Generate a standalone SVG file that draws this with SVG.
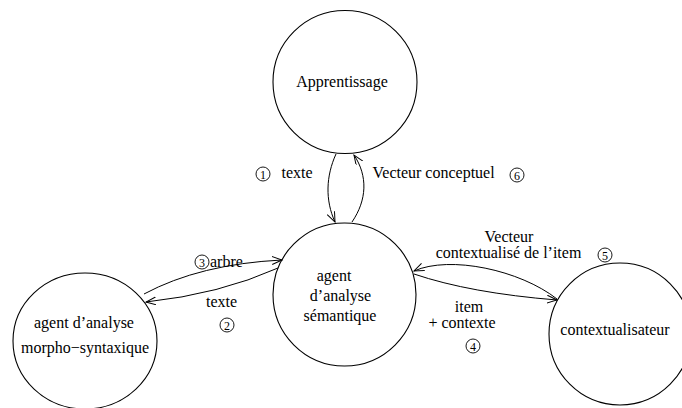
<svg xmlns="http://www.w3.org/2000/svg" width="682" height="408" viewBox="0 0 682 408">
<defs>
<style>
.node{fill:none;stroke:#000;stroke-width:1.1}
.edge{fill:none;stroke:#000;stroke-width:1;marker-end:url(#arr)}
.t{font-family:"Liberation Serif","Times New Roman",serif;font-size:16px;fill:#000}
.m{text-anchor:middle}
.num{fill:none;stroke:#000;stroke-width:0.9}
.d{font-family:"Liberation Serif","Times New Roman",serif;font-size:12px;fill:#000;text-anchor:middle}
</style>
<marker id="arr" markerUnits="userSpaceOnUse" markerWidth="12" markerHeight="10" refX="10" refY="4" orient="auto">
<path d="M0,0 L10,4 L0,8" fill="none" stroke="#000" stroke-width="1"/>
</marker>
</defs>
<rect width="682" height="408" fill="#fff"/>
<g id="apprentissage">
<ellipse class="node" cx="345" cy="82" rx="72" ry="71.5"/>
<text class="t m" x="342" y="87">Apprentissage</text>
</g>
<g id="agent-semantique">
<ellipse class="node" cx="344.5" cy="294.5" rx="71.5" ry="71.5"/>
<text class="t m" x="334" y="281">agent</text>
<text class="t m" x="340.5" y="301">d’analyse</text>
<text class="t m" x="340" y="321">sémantique</text>
</g>
<g id="agent-morpho">
<ellipse class="node" cx="85" cy="341" rx="72" ry="68"/>
<text class="t m" x="84" y="328">agent d’analyse</text>
<text class="t m" x="85" y="353">morpho−syntaxique</text>
</g>
<g id="contextualisateur">
<ellipse class="node" cx="620" cy="334" rx="71" ry="71"/>
<text class="t m" x="615" y="335">contextualisateur</text>
</g>
<g id="connectors">
<path class="edge" d="M336,154 C326,176 325,200 335,222"/>
<path class="edge" d="M352,222 C367,200 368,176 354,155"/>
<path class="edge" d="M144,294 Q200,264 282,260"/>
<path class="edge" d="M278,268 Q220,294 146,302"/>
<path class="edge" d="M557,299 C520,270 450,255 414,271"/>
<path class="edge" d="M414,274 Q470,293 557,300"/>
</g>
<g id="labels">
<circle class="num" cx="263" cy="174" r="7"/><text class="d" x="263" y="178.5">1</text>
<text class="t" x="281.5" y="178">texte</text>
<text class="t" x="372.5" y="178">Vecteur conceptuel</text>
<circle class="num" cx="517" cy="175" r="7"/><text class="d" x="517" y="179.5">6</text>
<circle class="num" cx="202" cy="262" r="7"/><text class="d" x="202" y="266.5">3</text>
<text class="t" x="210" y="267">arbre</text>
<text class="t m" x="221.5" y="307">texte</text>
<circle class="num" cx="227" cy="325" r="7"/><text class="d" x="227" y="329.5">2</text>
<text class="t m" x="509" y="242">Vecteur</text>
<text class="t m" x="508.5" y="258">contextualisé de l’item</text>
<circle class="num" cx="605" cy="255" r="7"/><text class="d" x="605" y="259.5">5</text>
<text class="t m" x="469" y="312">item</text>
<text class="t m" x="462" y="328">+ contexte</text>
<circle class="num" cx="473" cy="346" r="7"/><text class="d" x="473" y="350.5">4</text>
</g>
</svg>
